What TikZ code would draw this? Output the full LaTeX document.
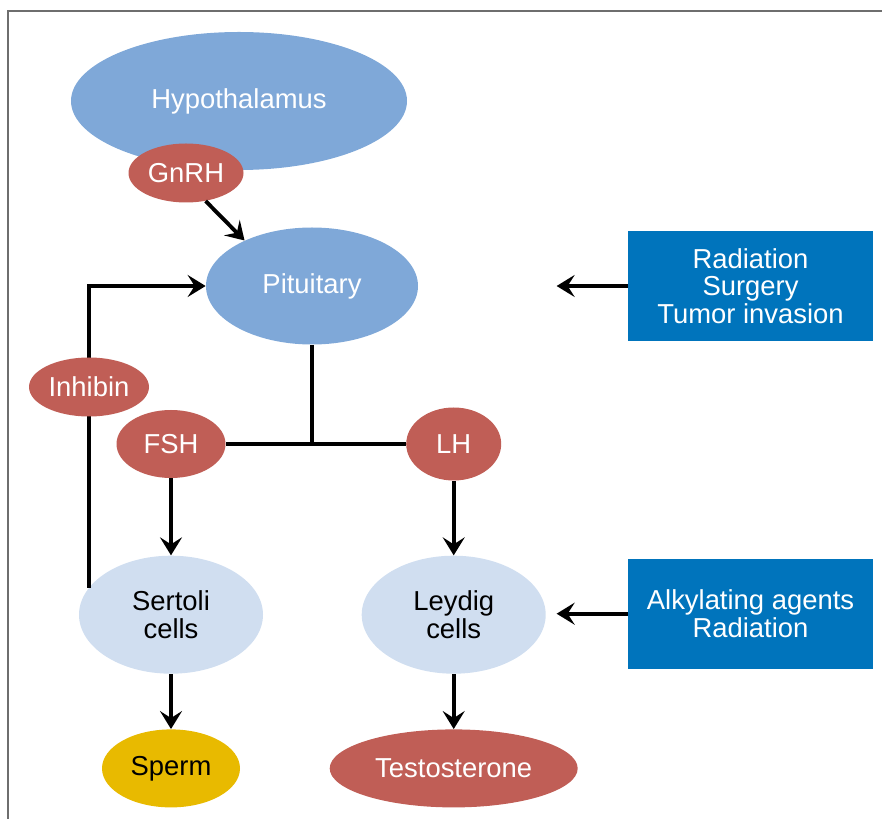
\documentclass[tikz,border=0pt]{standalone}
\usepackage{fontspec}
\setmainfont{Liberation Sans}
\usepackage{tikz}
\usetikzlibrary{arrows.meta}
\usetikzlibrary{positioning}
\usetikzlibrary{shapes.geometric}

\definecolor{glandblue}{RGB}{127,168,216}
\definecolor{hormonered}{RGB}{192,94,86}
\definecolor{cellblue}{RGB}{208,222,240}
\definecolor{spermgold}{RGB}{232,186,0}
\definecolor{agentblue}{RGB}{0,116,188}
\definecolor{framegray}{RGB}{110,110,110}

\begin{document}
\begin{tikzpicture}[
        font=\fontsize{15.6}{15.8}\selectfont,
        gland/.style={ellipse, fill=glandblue, text=white, inner sep=0pt},
        hormone/.style={ellipse, fill=hormonered, text=white, inner sep=0pt},
        cell/.style={ellipse, fill=cellblue, text=black, align=center, inner sep=0pt, minimum width=3.68cm, minimum height=2.36cm},
        agent/.style={rectangle, fill=agentblue, text=white, align=center, minimum width=4.90cm, minimum height=2.20cm},
        link/.style={line width=2.2pt},
        arrow/.style={link, -{Stealth[length=0.36cm, width=0.44cm, inset=0.14cm]}}]
        \useasboundingbox (0,0) rectangle (17.64,-16.38);
        \draw[framegray, line width=1.1pt] (0.16,-16.38) |- (17.64,-0.22);
        \node[gland, minimum width=6.72cm, minimum height=2.76cm](hyp) at (4.78,-2.02) {Hypothalamus};
        \node[hormone, minimum width=2.30cm, minimum height=1.18cm](gnrh) at (3.72,-3.46) {GnRH};
        \node[gland, minimum width=4.24cm, minimum height=2.34cm](pit) at (6.24,-5.72) {Pituitary};
        \node[hormone, minimum width=2.18cm, minimum height=1.36cm](fsh) at (3.42,-8.88) {FSH};
        \node[hormone, minimum width=1.90cm, minimum height=1.46cm, right = 3.6cm of fsh](lh) {LH};
        \node[cell, below = 1.54cm of fsh](sertoli) {Sertoli\\cells};
        \node[cell, below = 1.49cm of lh](leydig) {Leydig\\cells};
        \node[ellipse, fill=spermgold, inner sep=0pt, minimum width=2.76cm, minimum height=1.56cm, below = 1.1cm of sertoli](sperm) {Sperm};
        \node[hormone, minimum width=4.96cm, minimum height=1.56cm, below = 1.1cm of leydig](testo) {Testosterone};
        \node[agent](rad) at (15.01,-5.72) {Radiation\\Surgery\\Tumor invasion};
        \node[agent, below = 4.34cm of rad](alk) {Alkylating agents\\Radiation};
        \coordinate[left = 1.42cm of rad](radtip);
        \coordinate[left = 1.42cm of alk](alktip);
        \draw[arrow] (gnrh.-55) -- (pit.146);
        \draw[link] (pit) -- (pit |- fsh);
        \draw[link] (fsh) -- (lh);
        \draw[arrow] (fsh) -- (sertoli);
        \draw[arrow] (lh) -- (leydig);
        \draw[arrow] (sertoli) -- (sperm);
        \draw[arrow] (leydig) -- (testo);
        \draw[arrow] (sertoli.162) |- (pit);
        \node[hormone, minimum width=2.40cm, minimum height=1.18cm](inhibin) at (1.78,-7.74) {Inhibin};
        \draw[arrow] (rad) -- (radtip);
        \draw[arrow] (alk) -- (alktip);
    \end{tikzpicture}
\end{document}
